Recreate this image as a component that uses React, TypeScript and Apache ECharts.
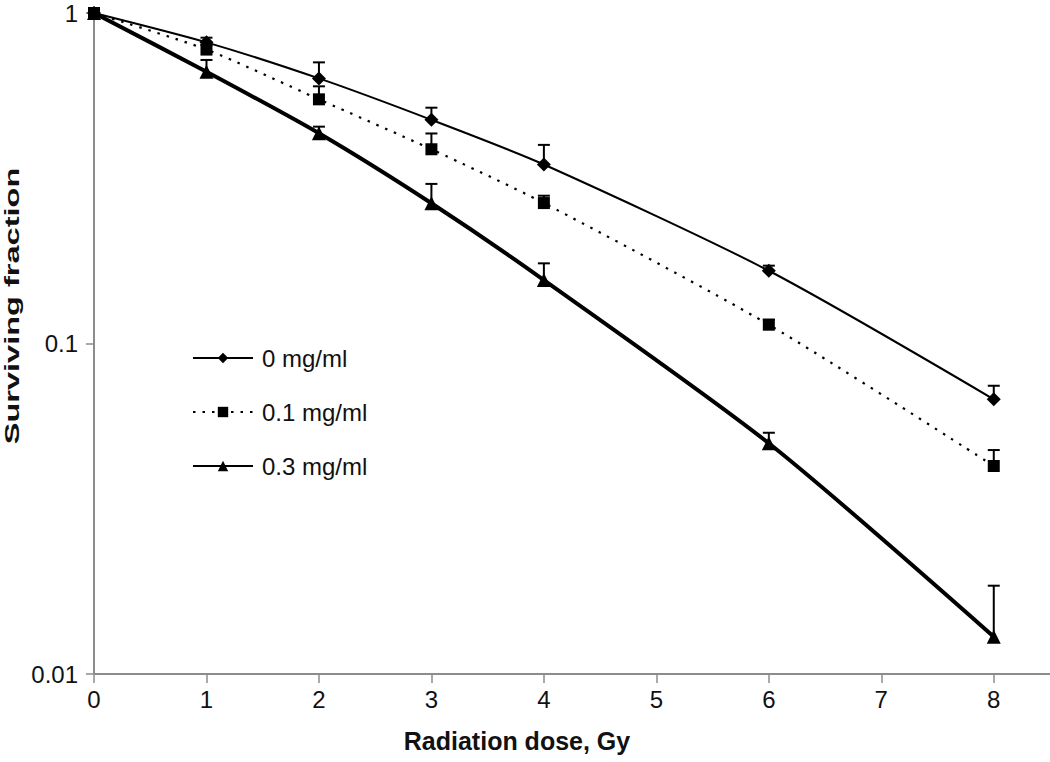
import React, { useEffect, useRef } from "react";
import * as echarts from "echarts";

const doses = [0, 1, 2, 3, 4, 6, 8];
const seriesNames = ["0 mg/ml", "0.1 mg/ml", "0.3 mg/ml"];
const sf0 = [1, 0.815, 0.634, 0.475, 0.348, 0.166, 0.0678];
const sf0Upper = [1, 0.842, 0.709, 0.517, 0.399, 0.172, 0.0745];
const sf01 = [1, 0.775, 0.548, 0.387, 0.266, 0.114, 0.0426];
const sf01Upper = [1, 0.8, 0.6, 0.432, 0.28, 0.118, 0.0476];
const sf03 = [1, 0.664, 0.4325, 0.2656, 0.1556, 0.0499, 0.01297];
const sf03Upper = [1, 0.721, 0.453, 0.304, 0.1748, 0.0537, 0.0185];
const xTicks = [0, 1, 2, 3, 4, 5, 6, 7, 8];
const yTickLabels = ["0.01", "0.1", "1"];

const FONT = "'Liberation Sans', Arial, sans-serif";

export default function App() {
  const ref = useRef<HTMLDivElement>(null);
  useEffect(() => {
    if (!ref.current) return;
    const chart = echarts.init(ref.current, undefined, { renderer: "svg" });

    const pair = (ys: number[]) => doses.map((d, i) => [d, ys[i]]);
    const errData = (ys: number[], ups: number[]) => doses.map((d, i) => [d, ys[i], ups[i]]);

    const errSeries = (ys: number[], ups: number[]) => ({
      type: "custom",
      silent: true,
      z: 1,
      data: errData(ys, ups),
      renderItem: (params: any, api: any) => {
        const x = api.value(0);
        const lo = api.coord([x, api.value(1)]);
        const hi = api.coord([x, api.value(2)]);
        const half = 6;
        return {
          type: "group",
          children: [
            { type: "line", shape: { x1: lo[0], y1: lo[1], x2: hi[0], y2: hi[1] }, style: { stroke: "#000", lineWidth: 2 } },
            { type: "line", shape: { x1: hi[0] - half, y1: hi[1], x2: hi[0] + half, y2: hi[1] }, style: { stroke: "#000", lineWidth: 2 } },
          ],
        };
      },
    });

    const legendTops = [346, 400, 454];

    chart.setOption({
      animation: false,
      backgroundColor: "#fff",
      grid: { left: 94, top: 13, right: 0, bottom: 88, containLabel: false },
      xAxis: {
        type: "value",
        min: 0,
        max: 8.5,
        interval: 1,
        axisLine: { lineStyle: { color: "#8c8c8c", width: 2 } },
        axisTick: { show: true, length: 9, lineStyle: { color: "#8c8c8c", width: 1.5 }, customValues: xTicks },
        axisLabel: { color: "#111", fontSize: 24, fontFamily: FONT, margin: 13, customValues: xTicks, formatter: (v: number) => String(v) },
        splitLine: { show: false },
      },
      yAxis: {
        type: "log",
        logBase: 10,
        min: 0.01,
        max: 1,
        axisLine: { show: true, lineStyle: { color: "#8c8c8c", width: 2 } },
        axisTick: { show: true, length: 8, lineStyle: { color: "#8c8c8c", width: 1.5 } },
        axisLabel: {
          color: "#111",
          fontSize: 24,
          fontFamily: FONT,
          margin: 16,
          formatter: (v: number) => {
            const idx = Math.round(Math.log10(v)) + 2;
            return yTickLabels[idx] ?? "";
          },
        },
        splitLine: { show: false },
        minorTick: { show: false },
      },
      legend: seriesNames.map((n, i) => ({
        data: [n],
        orient: "vertical",
        left: 192,
        top: legendTops[i],
        padding: 0,
        itemWidth: 60,
        itemHeight: 13,
        itemGap: 0,
        textStyle: { fontSize: 24, fontFamily: FONT, color: "#111", lineHeight: 24, padding: [0, 0, 0, 4] },
        selectedMode: false,
      })),
      graphic: [
        {
          type: "text",
          x: 12,
          y: 306,
          rotation: Math.PI / 2,
          scaleX: 1.55,
          style: {
            text: "Surviving fraction",
            fontSize: 21,
            fontWeight: "bold",
            fontFamily: FONT,
            fill: "#111",
            align: "center",
            verticalAlign: "middle",
          },
        },
        {
          type: "text",
          x: 517,
          y: 741,
          style: {
            text: "Radiation dose, Gy",
            fontSize: 25,
            fontWeight: "bold",
            fontFamily: FONT,
            fill: "#111",
            align: "center",
            verticalAlign: "middle",
          },
        },
      ],
      series: [
        errSeries(sf0, sf0Upper),
        errSeries(sf01, sf01Upper),
        errSeries(sf03, sf03Upper),
        {
          name: seriesNames[0],
          type: "line",
          z: 3,
          data: pair(sf0),
          smooth: 0.25,
          symbol: "diamond",
          symbolSize: 14,
          itemStyle: { color: "#000" },
          lineStyle: { color: "#000", width: 2 },
        },
        {
          name: seriesNames[1],
          type: "line",
          z: 3,
          data: pair(sf01),
          smooth: 0.25,
          symbol: "rect",
          symbolSize: 12,
          itemStyle: { color: "#000" },
          lineStyle: { color: "#000", width: 2.2, type: [2.5, 7] },
        },
        {
          name: seriesNames[2],
          type: "line",
          z: 3,
          data: pair(sf03),
          smooth: 0.25,
          symbol: "triangle",
          symbolSize: 14,
          itemStyle: { color: "#000" },
          lineStyle: { color: "#000", width: 4 },
        },
      ],
    });
    return () => chart.dispose();
  }, []);
  return <div ref={ref} style={{ position: "fixed", left: 0, top: 0, width: 1050, height: 762 }} />;
}
